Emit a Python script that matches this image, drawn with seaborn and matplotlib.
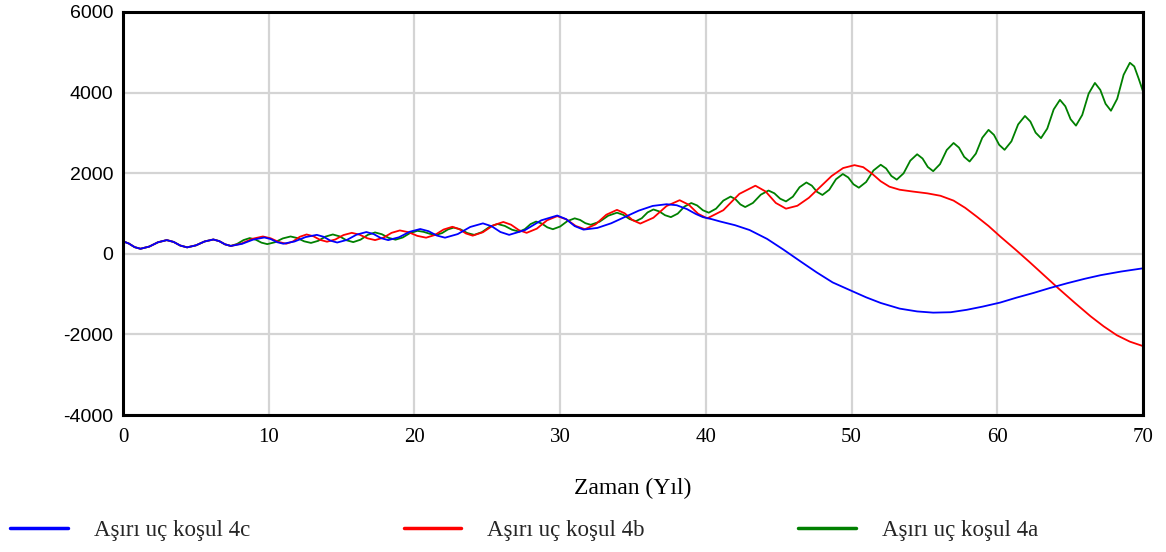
import matplotlib
matplotlib.use("Agg")
import matplotlib.pyplot as plt
from matplotlib.lines import Line2D
import numpy as np
import pandas as pd
import seaborn as sns

# ---------------- data ----------------
label_c = "Aşırı uç koşul 4c"
label_b = "Aşırı uç koşul 4b"
label_a = "Aşırı uç koşul 4a"

blue_t = [0, 0.4, 0.8, 1.2, 1.8, 2.4, 3.0, 3.47, 3.93, 4.4, 5.0, 5.6, 6.2, 6.6, 7.0, 7.4,
          8.17, 8.93, 9.7, 10.13, 10.57, 11.0, 11.77, 12.53, 13.3, 13.77, 14.23, 14.7,
          15.37, 16.03, 16.7, 17.2, 17.7, 18.2, 18.93, 19.67, 20.4, 20.97, 21.53, 22.1,
          22.97, 23.83, 24.7, 25.3, 25.9, 26.5, 27.6, 28.7, 29.8, 30.4, 31.0, 31.6,
          32.55, 33.5, 34.45, 35.4, 36.35, 37.3, 38.0, 38.7, 39.3, 39.8, 40.4, 41.0, 42.0,
          43.0, 44.2, 45.3, 46.5, 47.6, 48.7, 50.0, 51.0, 52.0, 53.3, 54.5, 55.6, 56.8,
          57.9, 59.0, 60.2, 61.3, 62.5, 63.6, 64.8, 66.0, 67.1, 68.5, 70.0]
blue_v = [310, 255, 165, 125, 179, 286, 340, 295, 205, 160, 209, 306, 355, 315, 235, 195,
          247, 352, 405, 366, 289, 250, 305, 415, 470, 422, 327, 280,
          345, 475, 540, 490, 390, 340, 409, 546, 615, 561, 454, 400,
          489, 666, 755, 684, 541, 470, 590, 830, 950, 862, 687, 600,
          642, 757, 915, 1072, 1188, 1230, 1205, 1110, 990, 910, 860, 800, 710,
          590, 370, 110, -190, -460, -710, -920, -1080, -1220, -1360, -1430, -1460, -1450,
          -1390, -1310, -1210, -1090, -970, -850, -730, -620, -530, -440, -360]

red_t = [0, 0.4, 0.8, 1.2, 1.8, 2.4, 3.0, 3.47, 3.93, 4.4, 5.0, 5.6, 6.2, 6.6, 7.0, 7.4,
         8.13, 8.87, 9.6, 10.13, 10.67, 11.2, 11.67, 12.13, 12.6, 13.07, 13.53, 14.0,
         14.57, 15.13, 15.7, 16.23, 16.77, 17.3, 17.87, 18.43, 19.0, 19.6, 20.2, 20.8,
         21.4, 22.0, 22.6, 23.07, 23.53, 24.0, 24.7, 25.4, 26.1, 26.63, 27.17, 27.7,
         28.4, 29.1, 29.8, 30.43, 31.07, 31.7, 32.43, 33.17, 33.9, 34.43, 34.97, 35.5,
         36.4, 37.3, 38.2, 38.83, 39.47, 40.1, 41.2, 42.3, 43.4, 44.1, 44.8, 45.5,
         46.28, 47.07, 47.85, 48.63, 49.42, 50.2, 50.8, 51.4, 52.0, 52.6, 53.3, 54.2,
         55.2, 56.1, 57.0, 57.8, 58.6, 59.4, 60.2, 61.2, 62.2, 63.2, 64.2, 65.3, 66.4,
         67.3, 68.2, 69.1, 70.0]
red_v = [310, 255, 165, 125, 179, 286, 340, 295, 205, 160, 209, 306, 355, 315, 235, 195,
         254, 371, 430, 385, 295, 250, 307, 422, 480, 435, 345, 300,
         355, 465, 520, 475, 385, 340, 400, 520, 580, 535, 445, 400,
         467, 602, 670, 615, 505, 450, 535, 705, 790, 722, 587, 520,
         624, 831, 935, 854, 691, 610, 730, 970, 1090, 1005, 835, 750,
         895, 1185, 1330, 1217, 992, 880, 1082, 1487, 1690, 1547, 1262, 1120,
         1192, 1390, 1660, 1930, 2128, 2200, 2150, 1990, 1800, 1665, 1590, 1545,
         1500, 1440, 1320, 1140, 920, 690, 430, 120, -200, -530, -860, -1210, -1550,
         -1800, -2020, -2180, -2290]

green_t = [0, 0.4, 0.8, 1.2, 1.8, 2.4, 3.0, 3.47, 3.93, 4.4, 5.0, 5.6, 6.2, 6.6, 7.0, 7.4,
           7.83, 8.27, 8.7, 9.1, 9.5, 9.9, 10.43, 10.97, 11.5, 11.97, 12.43, 12.9,
           13.4, 13.9, 14.4, 14.87, 15.33, 15.8, 16.3, 16.8, 17.3, 17.77, 18.23, 18.7,
           19.2, 19.7, 20.2, 20.63, 21.07, 21.5, 21.9, 22.3, 22.7, 23.17, 23.63, 24.1,
           24.63, 25.17, 25.7, 26.2, 26.7, 27.2, 27.58, 27.97, 28.35, 28.73, 29.12, 29.5,
           30.0, 30.5, 31.0, 31.37, 31.73, 32.1, 32.7, 33.3, 33.9, 34.33, 34.77, 35.2,
           35.6, 36.0, 36.4, 36.8, 37.2, 37.6, 38.07, 38.53, 39.0, 39.4, 39.8, 40.2,
           40.7, 41.2, 41.7, 42.03, 42.37, 42.7, 43.23, 43.77, 44.3, 44.7, 45.1, 45.5,
           45.97, 46.43, 46.9, 47.27, 47.63, 48.0, 48.47, 48.93, 49.4, 49.77, 50.13, 50.5,
           51.0, 51.5, 52.0, 52.37, 52.73, 53.1, 53.57, 54.03, 54.5, 54.87, 55.23, 55.6,
           56.07, 56.53, 57.0, 57.37, 57.73, 58.1, 58.53, 58.97, 59.4, 59.77, 60.13, 60.5,
           60.97, 61.43, 61.9, 62.27, 62.63, 63.0, 63.43, 63.87, 64.3, 64.67, 65.03, 65.4,
           65.83, 66.27, 66.7, 67.07, 67.43, 67.8, 68.23, 68.67, 69.1, 69.4, 69.7, 70.0]
green_v = [310, 255, 165, 125, 179, 286, 340, 295, 205, 160, 209, 306, 355, 315, 235, 195,
           245, 340, 390, 352, 277, 240, 287, 382, 430, 390, 310, 270,
           322, 427, 480, 432, 337, 290, 350, 470, 530, 485, 395, 350,
           405, 515, 570, 545, 495, 470, 515, 605, 650, 605, 515, 470,
           537, 672, 740, 692, 597, 550, 612, 737, 800, 752, 657, 610,
           677, 812, 880, 840, 760, 720, 795, 945, 1020, 967, 862, 810,
           882, 1027, 1100, 1052, 957, 910, 997, 1172, 1260, 1200, 1080, 1020,
           1120, 1320, 1420, 1355, 1225, 1160, 1262, 1467, 1570, 1502, 1367, 1300,
           1417, 1652, 1770, 1692, 1537, 1460, 1590, 1850, 1980, 1895, 1725, 1640,
           1782, 2067, 2210, 2117, 1932, 1840, 1997, 2312, 2470, 2365, 2155, 2050,
           2225, 2575, 2750, 2635, 2405, 2290, 2486, 2879, 3075, 2951, 2704, 2580,
           2790, 3210, 3420, 3282, 3007, 2870, 3107, 3582, 3820, 3660, 3340, 3180,
           3445, 3975, 4240, 4067, 3722, 3550, 3847, 4442, 4740, 4650, 4350, 4030]

x_ticks = [0, 10, 20, 30, 40, 50, 60, 70]
y_ticks = [-4000, -2000, 0, 2000, 4000, 6000]
x_label = "Zaman (Yıl)"

colors = {label_c: "#0000FF", label_b: "#FF0000", label_a: "#008000"}

# ---------------- figure ----------------
sns.set_theme(style="white")
plt.rcParams['font.family'] = ['Liberation Serif', 'DejaVu Serif']

W, H = 1166, 552
fig = plt.figure(figsize=(W / 100, H / 100), dpi=100)
ax = fig.add_axes([123 / W, 1 - 415 / H, 1020 / W, 403 / H])

df = pd.concat([
    pd.DataFrame({"t": green_t, "v": green_v, "seri": label_a}),
    pd.DataFrame({"t": red_t, "v": red_v, "seri": label_b}),
    pd.DataFrame({"t": blue_t, "v": blue_v, "seri": label_c}),
], ignore_index=True)

sns.lineplot(data=df, x="t", y="v", hue="seri",
             hue_order=[label_a, label_b, label_c], palette=colors,
             estimator=None, sort=False, linewidth=1.3, legend=False, ax=ax)

ax.set_xlim(0, 70)
ax.set_ylim(-4000, 6000)
ax.set_xticks(x_ticks)
ax.set_yticks(y_ticks)
ax.set_xticklabels([str(v) for v in x_ticks], fontsize=15, family=['Liberation Serif'])
ax.set_yticklabels([str(v) for v in y_ticks], fontsize=14, family=['Liberation Sans'])
ax.tick_params(axis='both', length=0, colors='black')
ax.tick_params(axis='x', pad=9)
ax.tick_params(axis='y', pad=7)
ax.grid(True, color='#d4d4d4', linewidth=1.6)
ax.set_axisbelow(True)
for s in ax.spines.values():
    s.set_color('black')
    s.set_linewidth(2.2)

ax.set_xlabel(x_label, fontsize=17, color='black')
ax.set_ylabel("")
ax.xaxis.set_label_coords(0.5, -0.155)
ax.xaxis.label.set_va('top')

handles = [Line2D([0], [0], color=colors[l], lw=2.5) for l in (label_c, label_b, label_a)]
fig.legend(handles, [label_c, label_b, label_a], loc='center left',
           bbox_to_anchor=(0.0, 1 - 530 / H), ncol=3, frameon=False,
           fontsize=16.5, handlelength=2.5, handletextpad=1.15,
           columnspacing=6.7, borderaxespad=0.0, borderpad=0.45)

fig.savefig("out.png", dpi=100)
